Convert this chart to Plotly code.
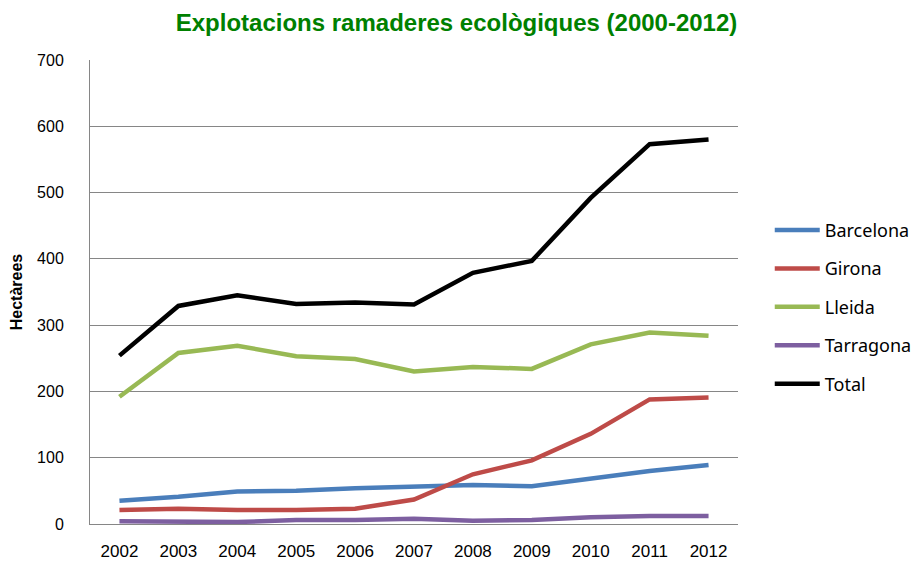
import plotly.graph_objects as go

years = ["2002", "2003", "2004", "2005", "2006", "2007", "2008", "2009", "2010", "2011", "2012"]
barcelona = [35, 41, 49, 50, 54, 56, 59, 57, 69, 80, 89]
girona = [21, 23, 21, 21, 23, 37, 75, 96, 136, 188, 191]
lleida = [192, 258, 269, 253, 249, 230, 237, 234, 271, 289, 284]
tarragona = [4, 4, 3, 6, 6, 8, 5, 6, 10, 12, 12]
total = [254, 329, 345, 332, 334, 331, 379, 397, 492, 573, 580]

series = [
    ("Barcelona", barcelona, "#4a7ebb"),
    ("Girona", girona, "#be4b48"),
    ("Lleida", lleida, "#98b954"),
    ("Tarragona", tarragona, "#7d5fa0"),
    ("Total", total, "#000000"),
]

fig = go.Figure()
for name, vals, col in series:
    fig.add_trace(go.Scatter(x=years, y=vals, name=name, mode="lines", legendgroup=name,
                             line=dict(color=col, width=4.5)))

axis_font = dict(family="Liberation Sans Narrow, Liberation Sans, Arial, sans-serif", size=16, color="#000")
fig.update_layout(
    width=921, height=566,
    margin=dict(l=82, r=189, t=52, b=50),
    paper_bgcolor="white", plot_bgcolor="white",
    title=dict(text="<b>Explotacions ramaderes ecològiques (2000-2012)</b>",
               x=0.487, xanchor="center", y=0.974, yanchor="middle",
               font=dict(family="Liberation Sans Narrow, Liberation Sans, Arial, sans-serif",
                         size=24, color="#008000")),
    xaxis=dict(type="category", range=[-0.5, 10.5], showgrid=False, automargin=False,
               showline=True, linecolor="#868686", linewidth=1,
               ticks="", ticklabelstandoff=12,
               tickfont=dict(family="Liberation Sans, Arial", size=17, color="#000")),
    yaxis=dict(range=[0, 700], dtick=100, showgrid=True, gridcolor="#868686", gridwidth=1,
               showline=True, linecolor="#868686", linewidth=1, zeroline=False, automargin=False,
               ticks="", ticklabelstandoff=22, tickfont=axis_font,
               title=dict(text="<b>Hectàrees</b>", standoff=24,
                          font=dict(family="Liberation Sans, Arial", size=16, color="#000"))),
    legend=dict(x=1.049, xanchor="left", y=0.468, yanchor="middle",
                font=dict(family="Noto Sans, Liberation Sans, Arial", size=18, color="#000"),
                tracegroupgap=12, itemwidth=45, bgcolor="rgba(0,0,0,0)"),
    showlegend=True,
)

fig.write_html("out.html")
